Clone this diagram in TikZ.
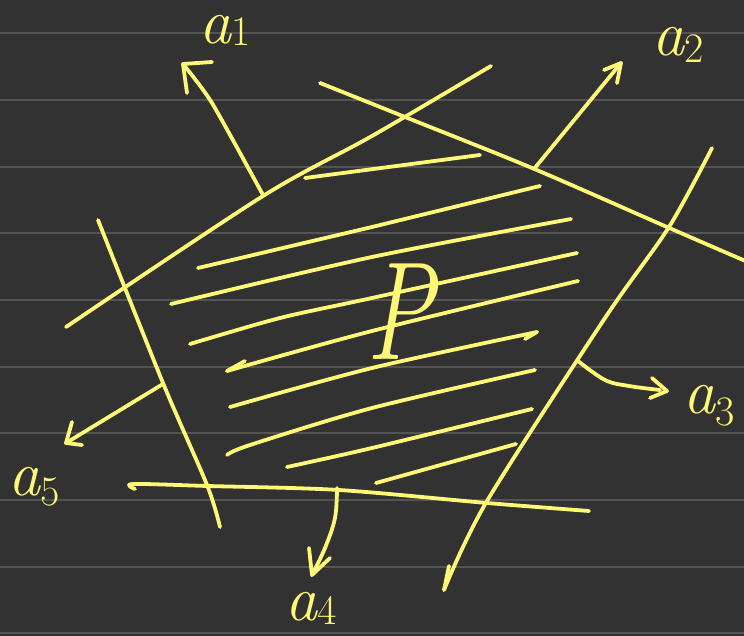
\documentclass[tikz,border=0pt]{standalone}
\usepackage{fontspec}
\usepackage{tikz}
\definecolor{bg}{RGB}{50,50,50}
\definecolor{rulegray}{RGB}{84,84,84}
\definecolor{ink}{RGB}{255,248,118}
\newcommand\sublab[2]{{\itshape a}\raisebox{-#2pt}{\fontsize{42}{42}\selectfont #1}}
\tikzset{
  pen/.style={draw=ink, line width=3.8pt, line cap=round, line join=round},
  ruleline/.style={draw=rulegray, line width=1.8pt},
  lbl/.style={text=ink, inner sep=0pt, font=\fontsize{64}{64}\selectfont},
}
\begin{document}
\begin{tikzpicture}[x=1pt,y=-1pt]
\fill[bg] (0,0) rectangle (744,636);
\useasboundingbox (0,0) rectangle (744,636);
% notebook rules
\foreach \k in {0,...,9} \draw[ruleline] (0,{33.33+66.67*\k}) -- (744,{33.33+66.67*\k});

% labels
\node[lbl, anchor=base west] (la1) at (199,44) {\sublab{1}{2}};
\node[lbl, anchor=base west] (la2) at (652,56) {\sublab{2}{7}};
\node[lbl, anchor=base west] (la3) at (683,413) {\sublab{3}{12}};
\node[lbl, anchor=base west] (la4) at (285,620) {\sublab{4}{4}};
\node[lbl, anchor=base west] (la5) at (8,495) {\sublab{5}{10}};
\node[text=ink, inner sep=0pt, font=\fontsize{140}{140}\selectfont\itshape] (P) at (400,312) {\scalebox{0.72}[1]{P}};

% half-plane boundaries
\draw[pen] plot[smooth, tension=0.5] coordinates {(66,327) (263,196) (372,136) (491,66)};
\draw[pen] plot[smooth, tension=0.5] coordinates {(320,83) (405,117) (532,168) (667,227) (750,263)};
\draw[pen] plot[smooth, tension=0.5] coordinates {(712,148) (669,227) (605,318) (487,501) (444,590)};
\draw[pen] (444,590) -- (449,566);
\draw[pen] plot[smooth, tension=0.5] coordinates {(135,489) (133,484) (208,486) (339,490) (487,503) (589,511)};
\draw[pen] plot[smooth, tension=0.5] coordinates {(98,220) (163,383) (207,485) (220,527)};

% normal arrows
\coordinate (s1) at (263,195); \coordinate (t1) at (183,64);
\draw[pen] plot[smooth, tension=0.4] coordinates {(s1) (212,103) (t1)};
\draw[pen] (212,62) -- (t1) -- (187,93);

\coordinate (s2) at (534,169); \coordinate (t2) at (621,63);
\draw[pen] (s2) -- (t2);
\draw[pen] (604,70) -- (t2) -- (617,83);

\coordinate (s3) at (578,361); \coordinate (t3) at (667,391);
\draw[pen] plot[smooth, tension=0.6] coordinates {(s3) (605,380) (629,386) (660,390)};
\draw[pen] (652,378) -- (t3) -- (650,398);

\coordinate (s4) at (337,488); \coordinate (t4) at (312,575);
\draw[pen] plot[smooth, tension=0.6] coordinates {(s4) (335,518) (325,548) (t4)};
\draw[pen] (309,548) -- (t4) -- (330,558);

\coordinate (s5) at (163,384); \coordinate (t5) at (66,443);
\draw[pen] (s5) -- (t5);
\draw[pen] (72,422) -- (t5) -- (82,445);

% hatching
\draw[pen] (480,155) -- (305,178);
\draw[pen] (198,268) -- (372,227) -- (540,186);
\draw[pen] plot[smooth, tension=0.5] coordinates {(171,304) (372,257) (571,219)};
\draw[pen] plot[smooth, tension=0.5] coordinates {(190,344) (280,318) (372,298) (577,253)};
\draw[pen] plot[smooth, tension=0.5] coordinates {(578,281) (372,331) (227,371)};
\draw[pen] (227,371) -- (245,361);
\draw[pen] plot[smooth, tension=0.5] coordinates {(230,407) (372,368) (537,332)};
\draw[pen] (537,332) -- (525,339);
\draw[pen] plot[smooth, tension=0.5] coordinates {(227,455) (250,445) (372,408) (535,370)};
\draw[pen] plot[smooth, tension=0.5] coordinates {(287,467) (372,448) (532,409)};
\draw[pen] (376,483) -- (516,444);
\end{tikzpicture}
\end{document}
